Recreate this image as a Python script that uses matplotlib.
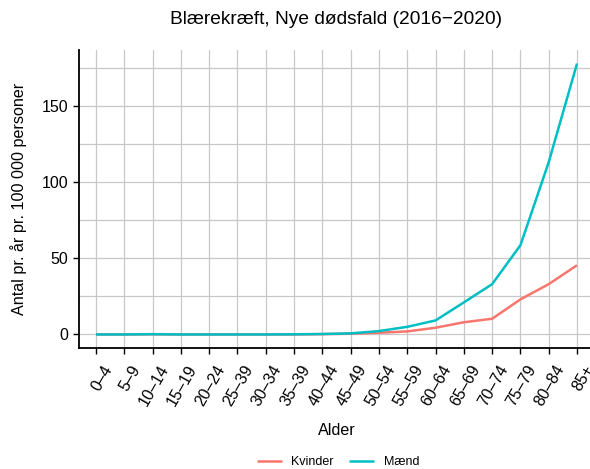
import matplotlib.pyplot as plt
from matplotlib.ticker import MultipleLocator
from matplotlib.transforms import ScaledTranslation
import numpy as np

plt.rcParams['font.family'] = ['Liberation Sans', 'DejaVu Sans']

# aldersgrupper (som i originalen)
alder = ['0–4', '5–9', '10–14', '15–19', '20–24', '25–39', '30–34', '35–39',
         '40–44', '45–49', '50–54', '55–59', '60–64', '65–69', '70–74',
         '75–79', '80–84', '85+']

kvinder = [0, 0, 0.1, 0, 0, 0, 0, 0, 0.2, 0.5, 1.1, 2.0, 4.4, 8.0, 10.3, 23.0, 33.0, 45.4]
maend = [0, 0, 0.2, 0, 0, 0, 0, 0.1, 0.3, 0.7, 2.2, 5.0, 9.2, 21.0, 33.0, 58.5, 113.0, 177.7]

farver = {'Kvinder': '#F8766D', 'Mænd': '#00BFC4'}

fig = plt.figure(figsize=(5.9, 4.69), dpi=100)
ax = fig.add_axes([79 / 590, 1 - 348 / 469, 515 / 590, 298 / 469])

x = np.arange(len(alder))
ax.plot(x, kvinder, color=farver['Kvinder'], lw=1.8, label='Kvinder', solid_capstyle='butt')
ax.plot(x, maend, color=farver['Mænd'], lw=1.8, label='Mænd', solid_capstyle='butt')

ymax = max(max(kvinder), max(maend))
ax.set_xlim(-0.6, len(alder) - 1 + 0.6)
ax.set_ylim(-0.05 * ymax, 1.05 * ymax)

ax.yaxis.set_major_locator(MultipleLocator(50))
ax.yaxis.set_minor_locator(MultipleLocator(25))
ax.tick_params(axis='y', labelsize=11.5, length=4, width=1.0, color='black', pad=4)
ax.tick_params(axis='x', length=4, width=1.0, color='black', pad=6.5)
ax.tick_params(axis='y', which='minor', length=0)

ax.set_xticks(x)
ax.set_xticklabels(alder, rotation=60, ha='right', va='top', rotation_mode='anchor', fontsize=11.5)
# flyt etiketterne lidt til højre, som i originalen
forskyd = ScaledTranslation(6 / 100, 0, fig.dpi_scale_trans)
for lbl in ax.get_xticklabels():
    lbl.set_transform(lbl.get_transform() + forskyd)

ax.grid(True, which='major', color='#C8C8C8', lw=0.9)
ax.grid(True, which='minor', color='#C8C8C8', lw=0.9)
ax.set_axisbelow(True)

for s in ['top', 'right']:
    ax.spines[s].set_visible(False)
for s in ['left', 'bottom']:
    ax.spines[s].set_linewidth(1.3)
    ax.spines[s].set_color('black')

ax.set_xlabel('Alder', fontsize=11.6, labelpad=10)
ax.set_ylabel('Antal pr. år pr. 100 000 personer', fontsize=11.6, labelpad=10)
fig.text(336 / 590, 1 - 20 / 469, 'Blærekræft, Nye dødsfald (2016−2020)',
         ha='center', va='center', fontsize=13.8)

fig.legend(loc='center', bbox_to_anchor=(338 / 590, 1 - 462 / 469), ncol=2,
           frameon=False, fontsize=9, handlelength=2.0, columnspacing=1.2)

fig.savefig('out.png', dpi=100)
